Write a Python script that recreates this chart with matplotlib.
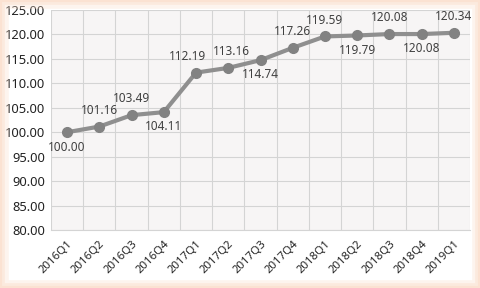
import matplotlib
matplotlib.use("Agg")
import matplotlib.pyplot as plt
from matplotlib.patches import Rectangle

categories = ["2016Q1", "2016Q2", "2016Q3", "2016Q4", "2017Q1", "2017Q2", "2017Q3",
              "2017Q4", "2018Q1", "2018Q2", "2018Q3", "2018Q4", "2019Q1"]
values = [100.00, 101.16, 103.49, 104.11, 112.19, 113.16, 114.74,
          117.26, 119.59, 119.79, 120.08, 120.08, 120.34]
label_pos = ["below", "above", "above", "below", "above", "above", "below",
             "above", "above", "below", "above", "below", "above"]
yticks = [80, 85, 90, 95, 100, 105, 110, 115, 120, 125]

plt.rcParams['font.family'] = ['Noto Sans', 'DejaVu Sans']

fig = plt.figure(figsize=(4.8, 2.88), dpi=100)
fig.patch.set_facecolor("white")
# soft peach border
for lw, a in [(12, 0.35), (7, 0.5), (3, 0.8)]:
    fig.patches.append(Rectangle((0, 0), 1, 1, transform=fig.transFigure, fill=False,
                                 edgecolor="#fbe1cf", linewidth=lw, alpha=a, zorder=0))

ax = fig.add_axes([51/480, 1 - 230/288, (470-51)/480, (230-10)/288])
ax.set_facecolor("#f7f5f5")
x = list(range(len(categories)))
ax.plot(x, values, color="#8f8f8f", linewidth=3, marker="o", markersize=7,
        markerfacecolor="#828282", markeredgecolor="#828282", zorder=3, clip_on=False)

# small horizontal nudges (points) to avoid label collisions, as in the original
nudge = {4: -6, 5: 2}
for xi, v, p in zip(x, values, label_pos):
    dx = nudge.get(xi, 0)
    if p == "above":
        ax.annotate(f"{v:.2f}", (xi, v), xytext=(dx, 7), textcoords="offset points",
                    ha="center", va="bottom", fontsize=8.5, color="#404040")
    else:
        ax.annotate(f"{v:.2f}", (xi, v), xytext=(dx, -6), textcoords="offset points",
                    ha="center", va="top", fontsize=8.5, color="#404040")

ax.set_xlim(-0.5, len(categories) - 0.5)
ax.set_ylim(80, 125)
ax.set_yticks(yticks)
ax.set_yticklabels([f"{t:.2f}" for t in yticks], fontsize=9.3, color="#222222")
ax.set_xticks(x)
ax.set_xticklabels(categories, rotation=45, ha="right", rotation_mode="anchor",
                   fontsize=8.2, color="#222222")
ax.set_xticks([i - 0.5 for i in range(len(categories) + 1)], minor=True)
ax.grid(False)
ax.grid(True, which="minor", axis="x", color="#d4d4d4", linewidth=0.8)
ax.grid(True, which="major", axis="y", color="#d4d4d4", linewidth=0.8)
ax.set_axisbelow(True)
ax.tick_params(axis="both", which="both", length=0, pad=4)
ax.tick_params(axis="x", pad=6)
for s in ax.spines.values():
    s.set_visible(False)
ax.spines["bottom"].set_visible(True)
ax.spines["bottom"].set_color("#d4d4d4")

fig.savefig("out.png", dpi=100, facecolor=fig.get_facecolor())
